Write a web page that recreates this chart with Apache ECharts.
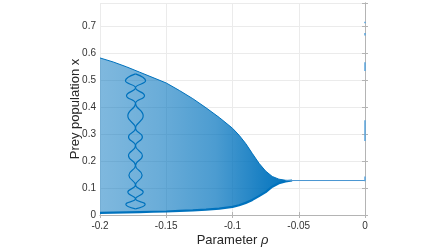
<!DOCTYPE html>
<html>
<head>
<meta charset="utf-8">
<script src="https://cdn.jsdelivr.net/npm/echarts@6.0.0/dist/echarts.min.js"></script>
<style>
  html, body { margin: 0; padding: 0; background: #fff; }
  #chart { width: 448px; height: 252px; }
</style>
</head>
<body>
<div id="chart"></div>
<script>
// envelope of the oscillation band
var rho   = [-0.2, -0.19, -0.18, -0.17, -0.16, -0.15, -0.14, -0.13, -0.12, -0.11, -0.1, -0.095, -0.09, -0.085, -0.08, -0.075, -0.07, -0.065, -0.06, -0.055]
var upper = [0.583, 0.568, 0.550, 0.530, 0.510, 0.490, 0.462, 0.432, 0.398, 0.362, 0.322, 0.296, 0.265, 0.228, 0.192, 0.163, 0.143, 0.133, 0.129, 0.128]
var lower = [0.008, 0.009, 0.010, 0.011, 0.012, 0.013, 0.015, 0.017, 0.020, 0.024, 0.030, 0.036, 0.045, 0.056, 0.070, 0.085, 0.105, 0.118, 0.125, 0.128]

// chain of loops near rho = -0.173
var eyeX     = [0.524, 0.498, 0.472, 0.443, 0.414, 0.368, 0.322, 0.290, 0.257, 0.220, 0.184, 0.148, 0.111, 0.085, 0.060, 0.040, 0.023]
var eyeLeft  = [-0.1732, -0.1808, -0.1732, -0.1800, -0.1732, -0.1790, -0.1732, -0.1785, -0.1732, -0.1785, -0.1732, -0.1782, -0.1732, -0.1790, -0.1732, -0.1805, -0.1732]
var eyeRight = [-0.1732, -0.1656, -0.1732, -0.1664, -0.1732, -0.1674, -0.1732, -0.1680, -0.1732, -0.1680, -0.1732, -0.1682, -0.1732, -0.1674, -0.1732, -0.1659, -0.1732]

// stable equilibrium line after the band
var flatRho = [-0.06, 0]
var flatX   = [0.128, 0.128]

// short segments at rho = 0
var zeroSegs = [[0.125, 0.143], [0.275, 0.352], [0.535, 0.567], [0.666, 0.676], [0.712, 0.717]]

var xTicks = [-0.2, -0.15, -0.1, -0.05, 0]
var yTicks = [0, 0.1, 0.2, 0.3, 0.4, 0.5, 0.6, 0.7]

var blue = '#0072BD'
var font = 'Liberation Sans, Arial, Helvetica, sans-serif'
var axisGray = '#b4b4b4'

function pairs(xs, ys) {
  return xs.map(function (x, i) { return [x, ys[i]] })
}

var chart = echarts.init(document.getElementById('chart'))

var bandFill = new echarts.graphic.LinearGradient(0, 0, 1, 0, [
  { offset: 0, color: 'rgba(0,114,189,0.5)' },
  { offset: 0.3, color: 'rgba(0,114,189,0.58)' },
  { offset: 0.6, color: 'rgba(0,114,189,0.7)' },
  { offset: 0.85, color: 'rgba(0,114,189,0.9)' },
  { offset: 1, color: 'rgba(0,114,189,1)' }
])

var series = [
  {
    name: 'band',
    type: 'custom',
    data: [[rho[0], upper[0]]],
    silent: true,
    renderItem: function (params, api) {
      var pts = []
      for (var i = 0; i < rho.length; i++) pts.push(api.coord([rho[i], upper[i]]))
      for (var j = rho.length - 1; j >= 0; j--) pts.push(api.coord([rho[j], lower[j]]))
      return { type: 'polygon', shape: { points: pts }, style: { fill: bandFill } }
    }
  },
  {
    name: 'upper',
    type: 'line',
    data: pairs(rho, upper),
    symbol: 'none',
    lineStyle: { color: blue, width: 1 },
    silent: true
  },
  {
    name: 'lower',
    type: 'line',
    data: pairs(rho, lower),
    symbol: 'none',
    lineStyle: { color: blue, width: 2.2 },
    silent: true
  },
  {
    name: 'flat',
    type: 'line',
    data: pairs(flatRho, flatX),
    symbol: 'none',
    lineStyle: { color: '#4a96d2', width: 1 },
    silent: true
  },
  {
    name: 'eyeL',
    type: 'line',
    data: pairs(eyeLeft, eyeX),
    symbol: 'none',
    smooth: 0.5,
    lineStyle: { color: blue, width: 1.2 },
    silent: true
  },
  {
    name: 'eyeR',
    type: 'line',
    data: pairs(eyeRight, eyeX),
    symbol: 'none',
    smooth: 0.5,
    lineStyle: { color: blue, width: 1.2 },
    silent: true
  }
]

zeroSegs.forEach(function (s) {
  series.push({
    type: 'line',
    data: [[0, s[0]], [0, s[1]]],
    symbol: 'none',
    clip: false,
    lineStyle: { color: '#5aa5dc', width: 1.5 },
    silent: true
  })
})

var onTick = function (list) {
  return function (v) {
    for (var i = 0; i < list.length; i++) {
      if (Math.abs(v - list[i]) < 1e-6) return String(+list[i].toFixed(2))
    }
    return ''
  }
}

chart.setOption({
  animation: false,
  backgroundColor: '#fff',
  grid: { left: 100, right: 83, top: 3, bottom: 34 },
  xAxis: [
    {
      type: 'value',
      min: -0.2,
      max: 0,
      interval: 0.05,
      position: 'bottom',
      name: 'Parameter {i|ρ}',
      nameLocation: 'middle',
      nameGap: 19,
      nameMoveOverlap: false,
      nameTextStyle: {
        color: '#262626',
        fontSize: 13,
        fontFamily: font,
        rich: { i: { fontStyle: 'italic', fontSize: 13, fontFamily: font, color: '#262626' } }
      },
      axisLine: { lineStyle: { color: axisGray } },
      axisTick: { inside: true, length: 3, lineStyle: { color: axisGray } },
      axisLabel: { color: '#333', fontSize: 10, fontFamily: font, margin: 6, formatter: onTick(xTicks) },
      splitLine: { show: true, lineStyle: { color: '#ebebeb' } }
    },
    {
      type: 'value',
      min: -0.2,
      max: 0,
      interval: 0.05,
      position: 'top',
      axisLine: { lineStyle: { color: axisGray } },
      axisTick: { inside: true, length: 3, lineStyle: { color: axisGray } },
      axisLabel: { show: false },
      splitLine: { show: false }
    }
  ],
  yAxis: [
    {
      type: 'value',
      min: 0,
      max: 0.787,
      interval: 0.1,
      position: 'left',
      name: 'Prey population x',
      nameLocation: 'middle',
      nameGap: 18,
      nameMoveOverlap: false,
      nameTextStyle: { color: '#262626', fontSize: 13, fontFamily: font },
      axisLine: { show: true, lineStyle: { color: axisGray } },
      axisTick: { show: true, inside: true, length: 3, lineStyle: { color: axisGray } },
      axisLabel: { color: '#333', fontSize: 10, fontFamily: font, margin: 4, formatter: onTick(yTicks) },
      splitLine: { show: true, lineStyle: { color: '#ebebeb' } }
    },
    {
      type: 'value',
      min: 0,
      max: 0.787,
      interval: 0.1,
      position: 'right',
      axisLine: { show: true, lineStyle: { color: axisGray } },
      axisTick: { show: true, inside: true, length: 3, lineStyle: { color: axisGray } },
      axisLabel: { show: false },
      splitLine: { show: false }
    }
  ],
  series: series
})
</script>
</body>
</html>
